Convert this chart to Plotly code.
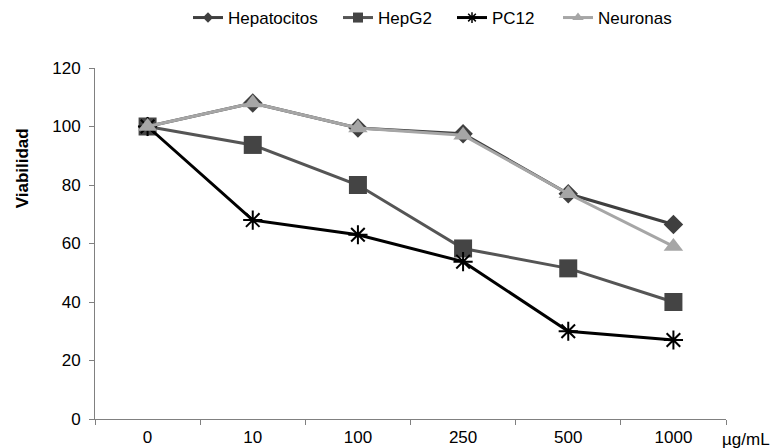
import plotly.graph_objects as go

categories = ["0", "10", "100", "250", "500", "1000"]
hepatocitos = [100, 108, 99.5, 97.5, 77, 66.5]
hepg2 = [100, 93.7, 80, 58.3, 51.5, 40]
pc12 = [100, 68, 63, 53.8, 30, 27]
neuronas = [100, 108, 99.5, 97, 77, 59]

series = [
    ("Hepatocitos", hepatocitos, "#3f3f3f", "#3f3f3f", "diamond", 15, 8, "legend"),
    ("HepG2", hepg2, "#555555", "#444444", "square", 18, 10, "legend2"),
    ("PC12", pc12, "#000000", "#000000", "asterisk-open", 16, 9, "legend3"),
    ("Neuronas", neuronas, "#a6a6a6", "#a6a6a6", "triangle-up", 17, 10, "legend4"),
]
legend_x = [188, 338, 452, 558]

fig = go.Figure()
for name, vals, lc, mc, sym, size, lsize, lg in series:
    mline = dict(width=2, color=mc) if sym.startswith("asterisk") else dict(width=0)
    fig.add_trace(go.Scatter(x=categories, y=vals, name=name, mode="lines+markers",
                             showlegend=False,
                             line=dict(color=lc, width=3),
                             marker=dict(symbol=sym, size=size, color=mc, line=mline)))
for name, vals, lc, mc, sym, size, lsize, lg in series:
    mline = dict(width=1.5, color=mc) if sym.startswith("asterisk") else dict(width=0)
    fig.add_trace(go.Scatter(x=[None], y=[None], name=name, mode="lines+markers",
                             showlegend=True, legend=lg,
                             line=dict(color=lc, width=3),
                             marker=dict(symbol=sym, size=lsize, color=mc, line=mline)))

legend_common = dict(orientation="h", y=1 - 18 / 448, yanchor="middle", yref="container",
                     xref="container", xanchor="left", font=dict(size=17),
                     bgcolor="rgba(0,0,0,0)", itemsizing="trace")
fig.update_layout(
    width=777, height=448,
    margin=dict(l=95, r=51, t=68, b=29),
    paper_bgcolor="white", plot_bgcolor="white",
    font=dict(family="Liberation Sans, Arial, sans-serif", size=17, color="#000000"),
    showlegend=True,
    legend=dict(x=legend_x[0] / 777, **legend_common),
    legend2=dict(x=legend_x[1] / 777, **legend_common),
    legend3=dict(x=legend_x[2] / 777, **legend_common),
    legend4=dict(x=legend_x[3] / 777, **legend_common),
    xaxis=dict(type="category", range=[-0.5, 5.5], autorange=False, showgrid=False,
               showline=True, linecolor="#808080", linewidth=1, automargin=False,
               ticks="outside", tickson="boundaries", ticklen=5, tickcolor="#808080",
               zeroline=False, ticklabelstandoff=3, tickfont=dict(size=17)),
    yaxis=dict(range=[0, 120], dtick=20, showgrid=False, showline=True, linecolor="#808080",
               linewidth=1, ticks="outside", ticklen=5, tickcolor="#808080", zeroline=False,
               automargin=False, ticklabelstandoff=5, tickfont=dict(size=17)),
)
fig.add_annotation(text="<b>Viabilidad</b>", textangle=-90, xref="paper", yref="paper",
                   x=0, y=(418 - 168) / 350, xanchor="center", yanchor="middle",
                   xshift=-73, showarrow=False, font=dict(size=17))
fig.add_annotation(text="µg/mL", xref="paper", yref="paper", x=1.0, y=0, xanchor="left",
                   yanchor="top", xshift=-6, yshift=-9, showarrow=False, font=dict(size=17))

fig.write_html("out.html")
